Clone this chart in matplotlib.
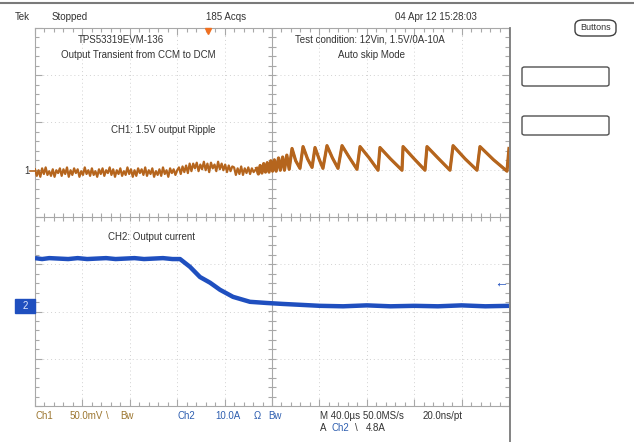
## LIBRARY------------------------------------------------------------------------
import numpy as np
import matplotlib.pyplot as plt
import matplotlib.ticker as ticker
from matplotlib.lines import Line2D
from matplotlib.patches import Rectangle, FancyBboxPatch
## -------------------------------------------------------------------------------

## VARIABLES----------------------------------------------------------------------
W, H = 634, 442
font_type = 'Liberation Sans'
font_size = 7

ch1_color = '#b5651d'
ch2_color = '#1f4fbf'
ch1_text = '#9c7630'
ch2_text = '#2f5fb0'
txt_color = '#333333'

# scope settings (M 40us/div, Ch1 50mV/div, Ch2 10A/div)
time_div_us = 40.0
ch1_mv_div = 50.0
ch2_a_div = 10.0
ch1_offset_div = 0.95
ch2_offset_div = -1.88
trig_level_a = 4.8
trig_pos_us = 146

# CH1 ripple, noisy CCM part, one sample every 1.5 us (mV)
ch1_dt_us = 1.5
ch1_noise_mv = [3, -4, 2, -5, 4, -2, 5, -3, 1, -4, 3, -5, 2, -1, 4, -4, 3, -2, 5, -5,
                2, -3, 4, -1, 3, -5, 1, -3, 5, -2, 2, -4, 4, -3, 1, -5, 3, -2, 4, -4,
                2, -1, 5, -3, 3, -5, 2, -2, 4, -4, 1, -3, 5, -2, 3, -5, 2, -4, 4, -1,
                3, -3, 5, -4, 2, -2, 4, -5, 1, -3, 3, -4, 5, -2, 2, -5, 4, -1, 3, -3,
                2,
                5, -2, 6, 0, 7, -1, 9, 1, 9, 4, 10, 1, 8, 3, 11, 2, 9, 0, 10, 4,
                8, 1, 11, 3, 9, 2, 8, 0, 7, 1, 6,
                5, -3, 4, -2, 6, -3, 4, -1, 5, -2, 4, 0]

# CH1 ripple, DCM / skip part (us, mV)
ch1_ripple_t = [187, 188.5, 190, 191.5, 193, 194.5, 196, 197.5, 199, 200.5,
                202, 203.5, 205.5, 207, 209, 210.5, 212.5, 214.5,
                216.9, 220, 223.6, 226.2, 230, 233.8, 236.3, 240, 243.0,
                246.4, 251, 255.7, 259.1, 265, 271.7, 274.3, 282, 289.5,
                291.1, 300, 309.7, 310.6, 320, 329.1, 330.8, 340, 350.2,
                352.8, 363, 373.0, 375.5, 387, 398.3, 400]
ch1_ripple_mv = [4, -2, 7, -1, 9, 0, 10, 0, 12, 1, 13, 1, 15, 2, 16, 2, 18, 3,
                 25, 12, 4, 27, 14, 5, 26, 13, 4,
                 28, 15, 4, 28, 16, 3, 27, 15, 2,
                 26, 14, 2, 27, 14, 2, 27, 15, 2,
                 28, 14, 2, 27, 13, 1, 25]

# CH2 output current (us, A)
ch2_t = [0, 6, 12, 20, 28, 36, 44, 52, 60, 68, 76, 84, 92, 100, 108, 116,
         122.4, 130.8, 139.2, 147.7, 156.1, 167.1, 181.4, 195.8, 209.3,
         225, 240.5, 260, 280, 300, 320, 340, 360, 380, 400]
ch2_a = [10.1, 9.9, 10.1, 10.0, 9.9, 10.1, 9.9, 10.0, 10.1, 9.9, 10.0, 10.1,
         9.9, 10.0, 10.1, 9.9,
         9.9, 8.25, 6.1, 4.9, 3.4, 1.9, 0.85, 0.6, 0.4,
         0.2, 0.0, -0.1, 0.1, -0.1, 0.0, -0.1, 0.1, -0.1, 0.0]
## -------------------------------------------------------------------------------

plt.rcParams['font.family'] = [font_type, 'DejaVu Sans']

fig = plt.figure(figsize=(W / 100, H / 100), dpi=100)
fig.patch.set_facecolor('white')

# graticule: left 35, right 509, top 28, bottom 406 (pixels)
ax = fig.add_axes([35 / W, 1 - 406 / H, 474 / W, 378 / H])
ax.set_xlim(0, 10 * time_div_us)
ax.set_ylim(-4, 4)


def ftext(x, y, s, **kw):
    kw.setdefault('fontsize', font_size)
    kw.setdefault('color', txt_color)
    kw.setdefault('va', 'center')
    fig.text(x / W, 1 - y / H, s, **kw)


def fline(xs, ys, **kw):
    fig.add_artist(Line2D([x / W for x in xs], [1 - y / H for y in ys], **kw))


##GRATICULE-----------------------------------------------------------------------
for i in range(1, 10):
    if i != 5:
        ax.plot([i * time_div_us] * 2, [-4, 4], ls=(0, (1, 3)), color='#d2d2d2', lw=0.7, zorder=1)
for j in range(-3, 4):
    if j != 0:
        ax.plot([0, 10 * time_div_us], [j, j], ls=(0, (1, 3)), color='#d2d2d2', lw=0.7, zorder=1)

ax.plot([5 * time_div_us] * 2, [-4, 4], color='#a8a8a8', lw=0.8, zorder=1)
ax.plot([0, 10 * time_div_us], [0, 0], color='#a8a8a8', lw=0.8, zorder=1)
xs_minor = np.arange(0, 10 * time_div_us + 1, time_div_us / 5)
ys_minor = np.arange(-4, 4.01, 0.2)
ax.vlines(xs_minor, -0.08, 0.08, color='#a8a8a8', lw=0.8, zorder=1)
ax.hlines(ys_minor, 5 * time_div_us - 3.2, 5 * time_div_us + 3.2, color='#a8a8a8', lw=0.8, zorder=1)

ax.xaxis.set_major_locator(ticker.MultipleLocator(time_div_us))
ax.xaxis.set_minor_locator(ticker.MultipleLocator(time_div_us / 5))
ax.yaxis.set_major_locator(ticker.MultipleLocator(1))
ax.yaxis.set_minor_locator(ticker.MultipleLocator(0.2))
ax.tick_params(which='both', direction='in', top=True, right=True, bottom=True, left=True,
               labelbottom=False, labelleft=False, color='#a8a8a8', width=0.8)
ax.tick_params(which='major', length=5)
ax.tick_params(which='minor', length=3)
for spine in ax.spines.values():
    spine.set_color('#a8a8a8')
    spine.set_linewidth(0.8)
ax.spines['right'].set_visible(False)
##---------------------------------------------------------------------------------

##TRACES--------------------------------------------------------------------------
ch1_noise_t = np.arange(len(ch1_noise_mv)) * ch1_dt_us
ch1_t = np.concatenate([ch1_noise_t, ch1_ripple_t])
ch1_mv = np.concatenate([ch1_noise_mv, ch1_ripple_mv])
ax.plot(ch1_t, ch1_offset_div + ch1_mv / ch1_mv_div, color=ch1_color, lw=1.6, zorder=3)
# sawtooth part drawn a bit heavier, like the persistence band
ax.plot(ch1_ripple_t, ch1_offset_div + np.array(ch1_ripple_mv) / ch1_mv_div,
        color=ch1_color, lw=2.3, zorder=3)

ax.plot(ch2_t, ch2_offset_div + np.array(ch2_a) / ch2_a_div, color=ch2_color, lw=3.2, zorder=3,
        solid_capstyle='butt')

# trigger position and level markers
ax.plot([trig_pos_us], [3.93], marker='v', ms=5, color='#f07020', clip_on=False, zorder=4)
ax.text(10 * time_div_us - 1, ch2_offset_div + trig_level_a / ch2_a_div, '\u2190',
        color=ch2_color, fontsize=10, ha='right', va='center', zorder=4)
##---------------------------------------------------------------------------------

##FRAME---------------------------------------------------------------------------
fline([0, W], [3, 3], color='#7a7a7a', lw=1.5)
fline([509.5, 509.5], [28, H], color='#7a7a7a', lw=1.3)

# channel ground markers
ftext(27, 171, '1', ha='center')
fline([30, 35], [171, 171], color=ch1_color, lw=1.2)
fig.add_artist(Rectangle((15 / W, 1 - 313 / H), 20 / W, 14 / H, color=ch2_color, transform=fig.transFigure))
ftext(25, 306, '2', color='#dfe8ff', ha='center')

# right side panel
fig.add_artist(FancyBboxPatch((575 / W, 1 - 36 / H), 41 / W, 16 / H,
                              boxstyle='round,pad=0,rounding_size=0.012', fc='white', ec='#404040', lw=1,
                              transform=fig.transFigure))
ftext(595.5, 28, 'Buttons', ha='center', fontsize=6.5)
for y0 in [67, 116]:
    fig.add_artist(FancyBboxPatch((522 / W, 1 - (y0 + 19) / H), 87 / W, 19 / H,
                                  boxstyle='round,pad=0,rounding_size=0.004', fc='white', ec='#505050', lw=1,
                                  transform=fig.transFigure))
##---------------------------------------------------------------------------------

##TEXT----------------------------------------------------------------------------
ftext(15, 17, 'Tek')
ftext(52, 17, 'Stopped')
ftext(226, 17, '185 Acqs', ha='center')
ftext(436, 17, '04 Apr 12 15:28:03', ha='center')

ftext(121, 40, 'TPS53319EVM-136', ha='center')
ftext(138, 55, 'Output Transient from CCM to DCM', ha='center')
ftext(370, 40, 'Test condition: 12Vin, 1.5V/0A-10A', ha='center')
ftext(372, 55, 'Auto skip Mode', ha='center')
ftext(163, 130, 'CH1: 1.5V output Ripple', ha='center')
ftext(152, 237, 'CH2: Output current', ha='center')

ftext(35, 416, 'Ch1', color=ch1_text)
ftext(70, 416, '50.0mV', color=ch1_text)
ftext(106, 416, '\\', color=ch1_text)
ftext(120, 416, 'Bw', color=ch1_text)
ftext(177, 416, 'Ch2', color=ch2_text)
ftext(215, 416, '10.0A', color=ch2_text)
ftext(254, 416, '\u03a9', color=ch2_text)
ftext(268, 416, 'Bw', color=ch2_text)
ftext(320, 416, 'M 40.0\u00b5s 50.0MS/s')
ftext(423, 416, '20.0ns/pt')
ftext(320, 428, 'A')
ftext(332, 428, 'Ch2', color=ch2_text)
ftext(355, 428, '\\')
ftext(366, 428, '4.8A')
##---------------------------------------------------------------------------------

fig.savefig('out.png', dpi=100, facecolor='white')
